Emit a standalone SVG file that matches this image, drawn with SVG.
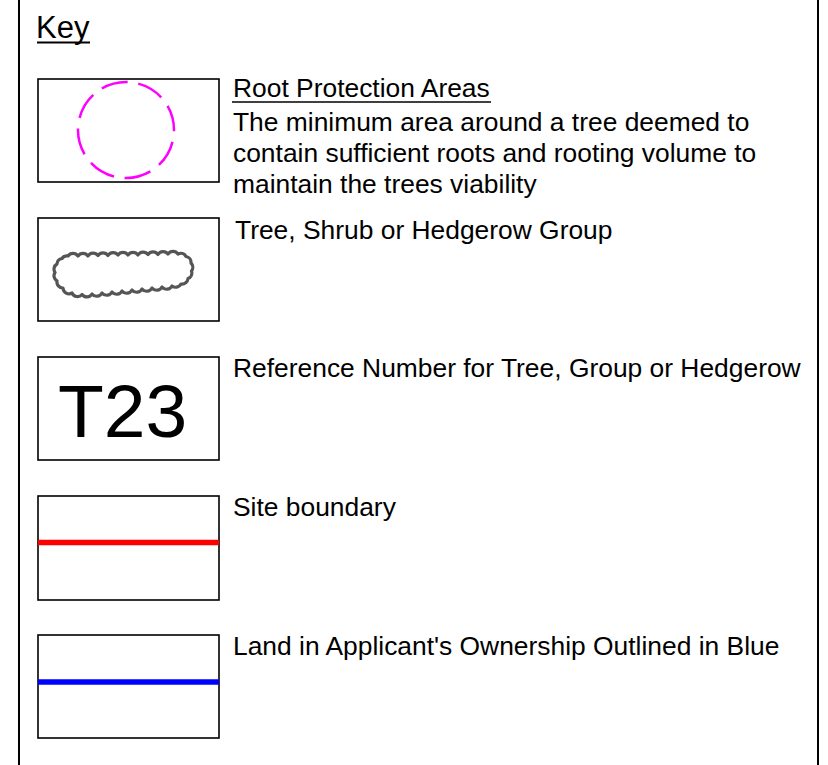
<svg xmlns="http://www.w3.org/2000/svg" width="828" height="765" viewBox="0 0 828 765">
<style>
text{font-family:"Liberation Sans",Arial,sans-serif;fill:#000}
.lbl{font-size:26.4px}
.box{fill:#fff;stroke:#000;stroke-width:1.6}
.frame{stroke:#000;stroke-width:2}
</style>
<rect x="0" y="0" width="828" height="765" fill="#fff"/>
<g id="frame">
<line class="frame" x1="19" y1="0" x2="19" y2="765"/>
<line class="frame" x1="818" y1="0" x2="818" y2="765"/>
</g>
<g id="title">
<text x="36" y="38" font-size="31">Key</text>
<line x1="37" y1="42.5" x2="90" y2="42.5" stroke="#000" stroke-width="2"/>
</g>
<g id="rpa">
<rect class="box" x="38" y="79" width="181" height="103"/>
<circle cx="126" cy="130" r="48" fill="none" stroke="#ff00ff" stroke-width="2.5" stroke-dasharray="27 10.7" stroke-dashoffset="25.65"/>
<text class="lbl" x="233" y="97">Root Protection Areas</text>
<line x1="232" y1="102" x2="491" y2="102" stroke="#000" stroke-width="1.6"/>
<text class="lbl" x="233" y="131">The minimum area around a tree deemed to</text>
<text class="lbl" x="233" y="162">contain sufficient roots and rooting volume to</text>
<text class="lbl" x="233" y="193">maintain the trees viability</text>
</g>
<g id="group">
<rect class="box" x="38" y="218" width="181" height="103"/>
<path fill="none" stroke="#555" stroke-width="3.2" stroke-linejoin="round" d="M68 256 A6 6 0 0 1 78 256 A6 6 0 0 1 88 256 A6 6 0 0 1 98 255.5 A6 6 0 0 1 108 255.5 A6 6 0 0 1 118 255 A6 6 0 0 1 128 255 A6 6 0 0 1 138 255 A6 6 0 0 1 148 254.5 A6 6 0 0 1 158 254.5 A6 6 0 0 1 168 254 A6 6 0 0 1 178 254 A6 6 0 0 1 186 256.5 A6 6 0 0 1 191 263 A6 6 0 0 1 191.5 271 A6 6 0 0 1 188 278.5 A6 6 0 0 1 181 284 A6 6 0 0 1 172 286 A6 6 0 0 1 162 287 A6 6 0 0 1 152 288 A6 6 0 0 1 142 289 A6 6 0 0 1 132 290 A6 6 0 0 1 122 291 A6 6 0 0 1 112 292 A6 6 0 0 1 102 293 A6 6 0 0 1 92 294 A6 6 0 0 1 82 294.5 A6 6 0 0 1 72 293 A6 6 0 0 1 63 288 A6 6 0 0 1 57 281 A6 6 0 0 1 55 272.5 A6 6 0 0 1 57 264 A6 6 0 0 1 62 258.5 A6 6 0 0 1 68 256 Z"/>
<text class="lbl" x="235" y="239">Tree, Shrub or Hedgerow Group</text>
</g>
<g id="refnum">
<rect class="box" x="38" y="357" width="181" height="103"/>
<text x="58" y="437" font-size="75">T23</text>
<text class="lbl" x="233" y="377">Reference Number for Tree, Group or Hedgerow</text>
</g>
<g id="site">
<rect class="box" x="38" y="496" width="181" height="104"/>
<line x1="38" y1="542.5" x2="219" y2="542.5" stroke="#ff0000" stroke-width="5.5"/>
<text class="lbl" x="233" y="516">Site boundary</text>
</g>
<g id="land">
<rect class="box" x="38" y="635" width="181" height="103"/>
<line x1="38" y1="682" x2="219" y2="682" stroke="#0000ff" stroke-width="5.5"/>
<text class="lbl" x="233" y="655">Land in Applicant's Ownership Outlined in Blue</text>
</g>
<g id="connectors"></g>
</svg>
